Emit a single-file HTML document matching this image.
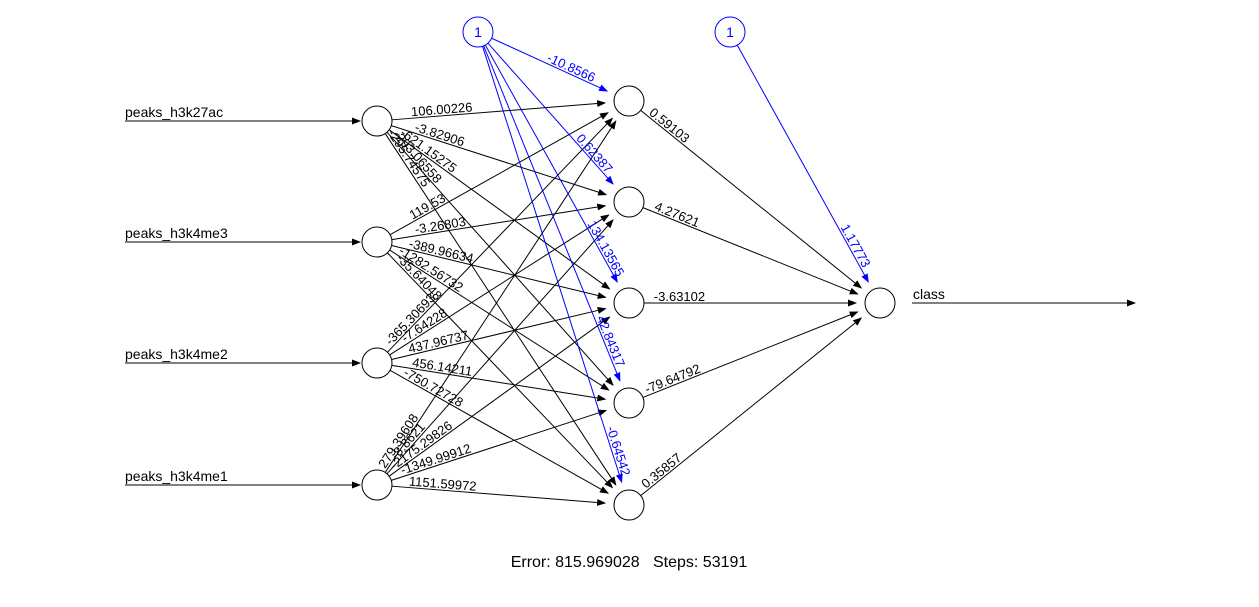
<!DOCTYPE html>
<html><head><meta charset="utf-8"><style>
html,body{margin:0;padding:0;background:#fff;}
svg{display:block;font-family:"Liberation Sans",sans-serif;}
</style></head><body>
<svg id="net" width="1259" height="607" viewBox="0 0 1259 607" xmlns="http://www.w3.org/2000/svg">
<defs>
<marker id="ak" markerWidth="9" markerHeight="7" refX="8" refY="3.5" orient="auto" markerUnits="userSpaceOnUse"><path d="M0,0 L9,3.5 L0,7 z" fill="#000"/></marker>
<marker id="ab" markerWidth="9" markerHeight="7" refX="8" refY="3.5" orient="auto" markerUnits="userSpaceOnUse"><path d="M0,0 L9,3.5 L0,7 z" fill="#00f"/></marker>
</defs>
</svg>
<script>
const inputNames = ["peaks_h3k27ac","peaks_h3k4me3","peaks_h3k4me2","peaks_h3k4me1"];
const outputNames = ["class"];
// weights[input][hidden]
const w1 = [
  ["106.00226","-3.82906","-621.15275","-293.06558","-295.74575"],
  ["119.53","-3.26803","-389.96634","-1282.56732","-35.64048"],
  ["-365.30693","-7.64228","437.96737","456.14211","-750.72728"],
  ["279.39608","-8.8621","-2175.29826","-1349.99912","1151.59972"]
];
const b1 = ["-10.8566","0.62387","134.13565","42.84317","-0.64542"];
const w2 = ["0.59103","4.27621","-3.63102","-79.64792","0.35857"];
const b2 = ["1.17773"];
const errorVal = "815.969028", stepsVal = "53191";

const svg = document.getElementById('net');
const NS = "http://www.w3.org/2000/svg";
const inX = 377, hidX = 629, outX = 880, R = 15;
const inY = [121,242,363,485];
const hidY = [101,202,303,403,505];
const outY = 303;
const bias1 = [478,32], bias2 = [730,32];
const biasLabelPos = [0.6,0.74,0.81,0.84,0.89];

function el(tag, attrs, parent){const e=document.createElementNS(NS,tag);for(const k in attrs)e.setAttribute(k,attrs[k]);(parent||svg).appendChild(e);return e;}
function edge(x1,y1,x2,y2,label,f,color,name){
  const dx=x2-x1, dy=y2-y1, L=Math.hypot(dx,dy), ux=dx/L, uy=dy/L;
  const sx=x1+ux*R, sy=y1+uy*R, ex=x2-ux*24, ey=y2-uy*24;
  const ln=el('line',{x1:sx,y1:sy,x2:ex,y2:ey,stroke:color,'stroke-width':1,'marker-end':color==='#000'?'url(#ak)':'url(#ab)'});
  
  
  const px=x1+dx*f, py=y1+dy*f, ang=Math.atan2(dy,dx)*180/Math.PI;
  const t=el('text',{x:0,y:-2,'font-size':13,fill:color,'text-anchor':'middle',transform:`translate(${px},${py}) rotate(${ang})`});
  t.textContent=label;
  
  
}
function node(x,y,name,label,color){
  const c=el('circle',{cx:x,cy:y,r:R,fill:'#fff',stroke:color||'#000','stroke-width':1});
  
  
  if(label){const t=el('text',{x:x,y:y+5,'font-size':14,fill:color,'text-anchor':'middle'});t.textContent=label;
    
    }
}
inputNames.forEach((n,i)=>{
  hidY.forEach((hy,j)=>{
    const L=Math.hypot(hidX-inX,hy-inY[i]);
    const f=0.26*Math.pow(252/L,1.5);
    edge(inX,inY[i],hidX,hy,w1[i][j],f,'#000','input'+(i+1)+'-hidden'+(j+1));
  });
});
hidY.forEach((hy,j)=>edge(bias1[0],bias1[1],hidX,hy,b1[j],biasLabelPos[j],'#00f','bias1-hidden'+(j+1)));
hidY.forEach((hy,j)=>{
  const L=Math.hypot(outX-hidX,outY-hy);
  edge(hidX,hy,outX,outY,w2[j],0.2*Math.pow(252/L,1.3),'#000','hidden'+(j+1)+'-output');
});
edge(bias2[0],bias2[1],outX,outY,b2[0],0.8,'#00f','bias2-output');
inputNames.forEach((n,i)=>{
  const l=el('line',{x1:125,y1:inY[i],x2:360,y2:inY[i],stroke:'#000','marker-end':'url(#ak)'});
  
  
  const t=el('text',{x:125,y:inY[i]-4,'font-size':14,fill:'#000'});t.textContent=n;
  
  
});
const ol=el('line',{x1:912,y1:outY,x2:1135,y2:outY,stroke:'#000','marker-end':'url(#ak)'});


const ot=el('text',{x:913,y:outY-4,'font-size':14,fill:'#000'});ot.textContent=outputNames[0];


inY.forEach((y,i)=>node(inX,y,'input-node-'+(i+1)));
hidY.forEach((y,j)=>node(hidX,y,'hidden-node-'+(j+1)));
node(outX,outY,'output-node');
node(bias1[0],bias1[1],'bias-node-1','1','#00f');
node(bias2[0],bias2[1],'bias-node-2','1','#00f');
const et=el('text',{x:629,y:567,'font-size':16,'text-anchor':'middle',fill:'#000',style:'white-space:pre'});
et.textContent='Error: '+errorVal+'   Steps: '+stepsVal;


</script>
</body></html>
